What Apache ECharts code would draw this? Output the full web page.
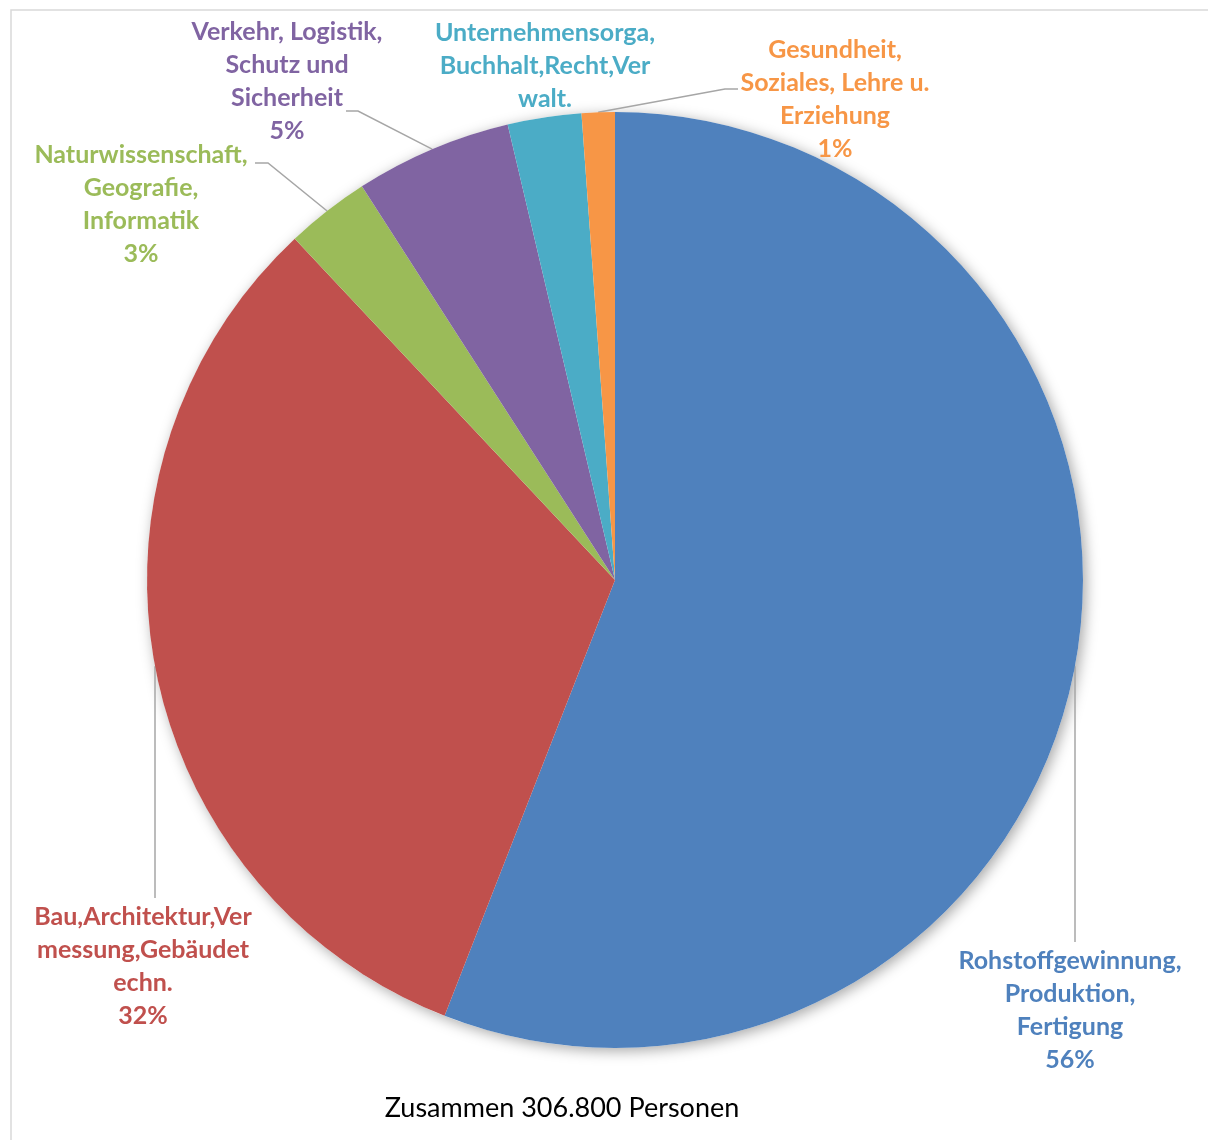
<!DOCTYPE html>
<html>
<head>
<meta charset="utf-8">
<script src="https://cdn.jsdelivr.net/npm/echarts@6/dist/echarts.min.js"></script>
<style>
  html, body { margin: 0; padding: 0; background: #ffffff; }
  #chart { width: 1208px; height: 1140px; }
</style>
</head>
<body>
<div id="chart"></div>
<script>
// Berufsbereiche (Zeilenumbrüche wie in der Beschriftung)
const categories = [
  'Rohstoffgewinnung,\nProduktion,\nFertigung',
  'Bau,Architektur,Ver\nmessung,Gebäudet\nechn.',
  'Naturwissenschaft,\nGeografie,\nInformatik',
  'Verkehr, Logistik,\nSchutz und\nSicherheit',
  'Unternehmensorga,\nBuchhalt,Recht,Ver\nwalt.',
  'Gesundheit,\nSoziales, Lehre u.\nErziehung'
];
// Personen in Tausend
const values = [171.6, 98.4, 8.9, 16.6, 7.8, 3.5];
// Prozentangabe anzeigen?
const showPercent = [true, true, true, true, false, true];
const colors = ['#4f81bd', '#c0504d', '#9bbb59', '#8064a2', '#4bacc6', '#f79646'];
const footerText = 'Zusammen 306.800 Personen';

// Kreisgeometrie
const CX = 615, CY = 580, R = 468;

// Platzierung der Beschriftungen (Mitte x, Oberkante y) und Führungslinien
const labelPlacement = [
  { x: 1070, y: 944, line: 'vertical', lx: 1075 },
  { x: 143,  y: 900, line: 'vertical', lx: 155 },
  { x: 141,  y: 138, line: 'elbow', ex: 268, ey: 163, hx: 255 },
  { x: 287,  y: 15,  line: 'elbow', ex: 358, ey: 111, hx: 346 },
  { x: 545,  y: 16,  line: 'none' },
  { x: 835,  y: 33,  line: 'elbow', ex: 725, ey: 89,  hx: 738 }
];

const total = values.reduce((a, b) => a + b, 0);

// Mittelwinkel jedes Segments (im Uhrzeigersinn ab 12 Uhr)
const midAngles = [];
let cum = 0;
values.forEach(v => { midAngles.push((cum + v / 2) / total * Math.PI * 2); cum += v; });

const pieData = categories.map((name, i) => ({
  name: name,
  value: values[i],
  itemStyle: { color: colors[i] },
  label: { color: colors[i] },
  labelLine: { show: labelPlacement[i].line !== 'none' }
}));

const chart = echarts.init(document.getElementById('chart'), null, { renderer: 'canvas' });

chart.setOption({
  backgroundColor: '#ffffff',
  animation: false,
  graphic: [
    {
      type: 'rect',
      shape: { x: 11, y: 10, width: 1230, height: 1160 },
      style: { fill: 'none', stroke: '#d9d9d9', lineWidth: 1.5 },
      z: 0
    },
    {
      type: 'text',
      x: 562, y: 1108,
      style: {
        text: footerText,
        fill: '#000000',
        font: '27px Lato',
        align: 'center',
        verticalAlign: 'middle'
      },
      z: 10
    }
  ],
  series: [
    {
      // Schatten unter dem Kreis
      type: 'pie',
      silent: true,
      center: [CX, CY],
      radius: R,
      z: 1,
      label: { show: false },
      labelLine: { show: false },
      itemStyle: {
        color: '#ffffff',
        shadowBlur: 14,
        shadowColor: 'rgba(0,0,0,0.35)',
        shadowOffsetX: 3,
        shadowOffsetY: 3
      },
      data: [{ value: total, name: 'Gesamt' }]
    },
    {
      type: 'pie',
      center: [CX, CY],
      radius: R,
      startAngle: 90,
      clockwise: true,
      z: 2,
      avoidLabelOverlap: false,
      itemStyle: { borderWidth: 0 },
      label: {
        show: true,
        position: 'outer',
        fontFamily: 'Lato',
        fontWeight: 'bold',
        fontSize: 25,
        lineHeight: 33,
        align: 'center',
        formatter: function (p) {
          const pct = Math.round(p.value / total * 100);
          return showPercent[p.dataIndex] ? p.name + '\n' + pct + '%' : p.name;
        }
      },
      labelLine: {
        show: true,
        smooth: false,
        lineStyle: { color: '#a6a6a6', width: 1.5 }
      },
      labelLayout: function (p) {
        const pl = labelPlacement[p.dataIndex];
        const out = { x: pl.x, y: pl.y, align: 'center', verticalAlign: 'top' };
        if (pl.line === 'vertical') {
          const dy = Math.sqrt(R * R - (pl.lx - CX) * (pl.lx - CX));
          out.labelLinePoints = [[pl.lx, CY + dy], [pl.lx, pl.y - 2], [pl.lx, pl.y - 2]];
        } else if (pl.line === 'elbow') {
          const a = midAngles[p.dataIndex];
          const sx = CX + R * Math.sin(a), sy = CY - R * Math.cos(a);
          out.labelLinePoints = [[sx, sy], [pl.ex, pl.ey], [pl.hx, pl.ey]];
        }
        return out;
      },
      data: pieData
    }
  ]
});
</script>
</body>
</html>
